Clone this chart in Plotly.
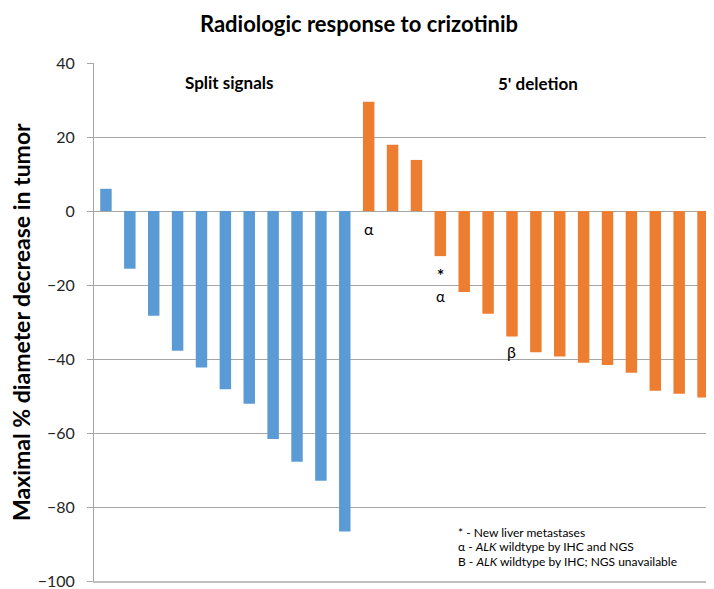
import plotly.graph_objects as go

# Data
split_values = [6.0, -15.6, -28.3, -37.8, -42.3, -48.2, -52.1, -61.6, -67.8, -72.9, -86.6]
deletion_values = [29.5, 17.9, 13.8, -12.2, -21.9, -27.8, -33.9, -38.2, -39.3, -41.0, -41.6, -43.7, -48.6, -49.4, -50.4]
split_x = list(range(1, len(split_values) + 1))
deletion_x = list(range(len(split_values) + 1, len(split_values) + len(deletion_values) + 1))
y_ticks = [40, 20, 0, -20, -40, -60, -80, -100]

# marks under bars: (patient index, y, symbol, size)
marks = [(12, -4.7, "α", 16), (15, -17.3, "<b>*</b>", 17), (15, -23.0, "α", 15), (18, -38.0, "β", 16)]
legend_lines = ["* - New liver metastases",
                "α - <i>ALK</i> wildtype by IHC and NGS",
                "B - <i>ALK</i> wildtype by IHC; NGS unavailable"]
legend_y = [-86.8, -90.8, -94.8]

FONT = "Lato"
fig = go.Figure()
fig.add_trace(go.Bar(x=split_x, y=split_values, marker=dict(color="#5B9BD5", line=dict(width=0)),
                     name="Split signals"))
fig.add_trace(go.Bar(x=deletion_x, y=deletion_values, marker=dict(color="#ED7D31", line=dict(width=0)),
                     name="5' deletion"))

annotations = []
for xi, yi, s, sz in marks:
    annotations.append(dict(x=xi, y=yi, text=s, showarrow=False, xref="x", yref="y",
                            font=dict(family=FONT, size=sz, color="#000000")))
annotations.append(dict(x=6.18, y=34.6, text="<b>Split signals</b>", showarrow=False,
                        font=dict(family=FONT, size=17, color="#000000")))
annotations.append(dict(x=19.1, y=34.4, text="<b>5' deletion</b>", showarrow=False,
                        font=dict(family=FONT, size=17, color="#000000")))
for txt, ly in zip(legend_lines, legend_y):
    annotations.append(dict(x=0.583, xref="paper", y=ly, yref="y", xanchor="left", yanchor="middle",
                            align="left", showarrow=False, text=txt,
                            font=dict(family=FONT, size=12, color="#000000")))
annotations.append(dict(x=-0.1176, xref="paper", y=0.5, yref="paper", xanchor="center", yanchor="middle",
                        textangle=-90, showarrow=False,
                        text="<b>Maximal % diameter decrease in tumor</b>",
                        font=dict(family=FONT, size=23, color="#000000")))

fig.update_layout(
    width=714, height=589,
    margin=dict(l=86, r=7, t=55, b=13),
    paper_bgcolor="white", plot_bgcolor="white",
    barmode="overlay", bargap=0.52,
    showlegend=False,
    title=dict(text="<b>Radiologic response to crizotinib</b>", x=0.4916, xref="container", xanchor="center",
               y=0.972, yref="container", yanchor="middle", font=dict(family=FONT, size=22, color="#000000")),
    annotations=annotations,
    xaxis=dict(range=[0.5, 26.5], showticklabels=False, showgrid=False, zeroline=False,
               showline=True, linecolor="#BFBFBF", linewidth=1.5, ticks=""),
    yaxis=dict(range=[-100, 40], tickvals=y_ticks, showgrid=True, gridcolor="#A6A6A6", gridwidth=1,
               zeroline=True, zerolinecolor="#A6A6A6", zerolinewidth=1,
               showline=True, linecolor="#A6A6A6", linewidth=1, ticks="outside", ticklen=6,
               tickcolor="#A6A6A6", ticklabelstandoff=9,
               tickfont=dict(family=FONT, size=16, color="#262626")),
)

fig.write_html("out.html")
